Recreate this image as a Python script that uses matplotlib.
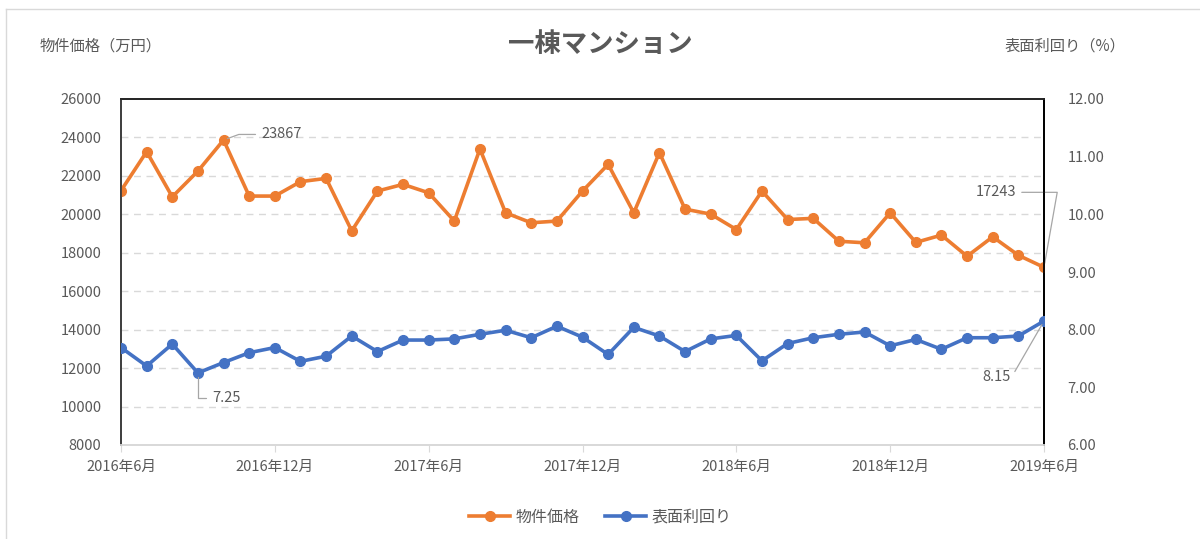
import matplotlib
matplotlib.use("Agg")
import matplotlib.pyplot as plt
from matplotlib.lines import Line2D

plt.rcParams['font.family'] = ['Noto Sans CJK JP', 'DejaVu Sans']

# 2016年6月 .. 2019年6月 (月次)
months = list(range(37))
tick_pos = [0, 6, 12, 18, 24, 30, 36]
tick_labels = ['2016年6月', '2016年12月', '2017年6月', '2017年12月',
               '2018年6月', '2018年12月', '2019年6月']

price = [21230, 23260, 20910, 22250, 23867, 20950, 20950, 21700, 21870, 19140,
         21210, 21560, 21120, 19650, 23400, 20080, 19560, 19650, 21210, 22600,
         20080, 23210, 20270, 20010, 19210, 21210, 19730, 19790, 18600, 18520,
         20080, 18540, 18920, 17820, 18830, 17870, 17243]
yield_pct = [7.69, 7.37, 7.75, 7.25, 7.43, 7.60, 7.69, 7.45, 7.54, 7.89,
             7.62, 7.82, 7.82, 7.84, 7.92, 7.99, 7.86, 8.06, 7.87, 7.57,
             8.04, 7.89, 7.62, 7.84, 7.90, 7.46, 7.76, 7.86, 7.92, 7.96,
             7.72, 7.83, 7.66, 7.86, 7.86, 7.89, 8.15]

ORANGE = '#ED7D31'
BLUE = '#4472C4'
TXT = '#595959'

fig = plt.figure(figsize=(12, 5.39), dpi=100)
ax = fig.add_axes([121/1200, 1-445/539, 923/1200, 346/539])
ax2 = ax.twinx()

# 外枠
fig.add_artist(Line2D([6/1200, 6/1200], [0, 1-9/539], transform=fig.transFigure, color='#D9D9D9', lw=1))
fig.add_artist(Line2D([6/1200, 1], [1-9/539, 1-9/539], transform=fig.transFigure, color='#D9D9D9', lw=1))

ax.plot(months, price, color=ORANGE, lw=2.6, marker='o', ms=7, zorder=3)
ax2.plot(months, yield_pct, color=BLUE, lw=2.6, marker='o', ms=7, zorder=3)

ax.set_xlim(0, 36)
ax.set_ylim(8000, 26000)
ax.set_yticks(range(8000, 26001, 2000))
ax2.set_ylim(6, 12)
ax2.set_yticks([6, 7, 8, 9, 10, 11, 12])
ax2.set_yticklabels(['%.2f' % v for v in [6, 7, 8, 9, 10, 11, 12]])

ax.set_xticks(tick_pos)
ax.set_xticklabels(tick_labels)

for g in range(10000, 26000, 2000):
    ax.axhline(g, color='#D9D9D9', lw=1, ls=(0, (5, 4)), zorder=0)

ax.tick_params(axis='x', colors='#D9D9D9', labelcolor=TXT, labelsize=10.5, length=5, direction='out', pad=6)
ax.tick_params(axis='y', length=0, labelcolor=TXT, labelsize=10.5, pad=14)
ax2.tick_params(axis='y', length=0, labelcolor=TXT, labelsize=10.5, pad=17)

for a in (ax, ax2):
    a.spines['bottom'].set_color('#D9D9D9')
    a.spines['left'].set_color('#404040')
    a.spines['top'].set_color('#262626')
    a.spines['right'].set_color('#000000')
    for s in a.spines.values():
        s.set_linewidth(1.3)

# データラベル
ann = dict(arrowstyle='-', color='#A6A6A6', lw=0.9, shrinkA=2, shrinkB=3)
ax.annotate('23867', xy=(4, 23867), xytext=(27, 4), textcoords='offset points',
            ha='left', va='center', fontsize=10.5, color=TXT,
            arrowprops=dict(ann, connectionstyle='angle,angleA=0,angleB=20,rad=0'))
ax.annotate('17243', xy=(36, 17243), xytext=(-20, 54), textcoords='offset points',
            ha='right', va='center', fontsize=10.5, color=TXT,
            arrowprops=dict(ann, connectionstyle='angle,angleA=0,angleB=80,rad=0'))
ax2.annotate('7.25', xy=(3, 7.25), xytext=(10, -18), textcoords='offset points',
             ha='left', va='center', fontsize=10.5, color=TXT,
             arrowprops=dict(ann, connectionstyle='angle,angleA=0,angleB=90,rad=0'))
ax2.annotate('8.15', xy=(36, 8.15), xytext=(-24, -40), textcoords='offset points',
             ha='right', va='center', fontsize=10.5, color=TXT,
             arrowprops=dict(ann, connectionstyle='angle,angleA=0,angleB=60,rad=0'))

fig.text(0.5, 1-45/539, '一棟マンション', ha='center', va='center',
         fontsize=19, fontweight='bold', color=TXT)
fig.text(40/1200, 1-46/539, '物件価格（万円）', ha='left', va='center', fontsize=11, color=TXT)
fig.text(1005/1200, 1-46/539, '表面利回り（%）', ha='left', va='center', fontsize=11, color=TXT)

handles = [Line2D([], [], color=ORANGE, lw=2.6, marker='o', ms=7),
           Line2D([], [], color=BLUE, lw=2.6, marker='o', ms=7)]
fig.legend(handles, ['物件価格', '表面利回り'], loc='center', bbox_to_anchor=(0.5, 1-517/539),
           ncol=2, frameon=False, fontsize=11.5, labelcolor=TXT, handlelength=2.6,
           handletextpad=0.3, columnspacing=1.6)

fig.savefig('out.png', dpi=100)
